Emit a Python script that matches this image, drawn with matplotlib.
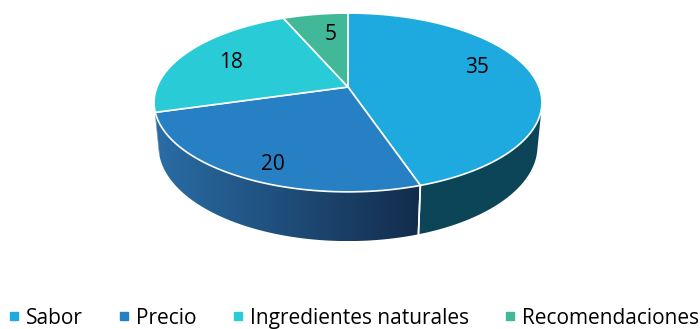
import numpy as np
import matplotlib.pyplot as plt
from matplotlib.patches import Polygon
from matplotlib.lines import Line2D
from matplotlib.colors import LinearSegmentedColormap

categories = ['Sabor', 'Precio', 'Ingredientes naturales', 'Recomendaciones']
values = [35, 20, 18, 5]
top_colors = ['#1eaadf', '#2780c4', '#29cbd6', '#41b897']
side_colors = [('#0c4558', '#0c4558'), ('#2a6da5', '#132c4c'),
               ('#2a6da5', '#2a6da5'), ('#2f8a70', '#2f8a70')]

# view geometry (pixels)
cx, cy = 348, 87
s = 191
elev = np.radians(27)
sinE, cosE = np.sin(elev), np.cos(elev)
D = 5.15
h = 0.26


def proj(X, Y, Z):
    v = Y * sinE + Z * cosE
    w = Y * cosE - Z * sinE
    f = D / (D + w)
    return cx + s * X * f, cy - s * v * f


fig = plt.figure(figsize=(7, 3.29), dpi=100)
ax = fig.add_axes([0, 0, 1, 1])
ax.set_xlim(0, 700)
ax.set_ylim(329, 0)
ax.axis('off')

total = sum(values)
bounds = np.concatenate([[0], np.cumsum(values)]) / total * 360

# visible part of the rim (tangent points seen from the camera)
alpha = np.degrees(np.arccos(1 / (D * cosE)))
vis_a, vis_b = 180 - alpha, 180 + alpha

for i in range(len(values)):
    a, b = max(bounds[i], vis_a), min(bounds[i + 1], vis_b)
    if b <= a:
        continue
    phi = np.radians(np.linspace(a, b, 120))
    xt, yt = proj(np.sin(phi), np.cos(phi), 0)
    xb, yb = proj(np.sin(phi), np.cos(phi), -h)
    pts = np.column_stack([np.concatenate([xt, xb[::-1]]),
                           np.concatenate([yt, yb[::-1]])])
    poly = Polygon(pts, closed=True, facecolor='none', edgecolor='none')
    ax.add_patch(poly)
    c0, c1 = side_colors[i]
    cmap = LinearSegmentedColormap.from_list('g%d' % i, [c0, c1])
    x0, x1 = pts[:, 0].min(), pts[:, 0].max()
    y0, y1 = pts[:, 1].min(), pts[:, 1].max()
    grad = np.linspace(0, 1, 256).reshape(1, -1)
    im = ax.imshow(grad, cmap=cmap, extent=[x0, x1, y1, y0], aspect='auto',
                   interpolation='bilinear', zorder=1)
    im.set_clip_path(poly)
    # white vertical edge at slice boundary
    for ang in (bounds[i], bounds[i + 1]):
        if vis_a + 2 < ang < vis_b - 6:
            r = np.radians(ang)
            xa, ya = proj(np.sin(r), np.cos(r), 0)
            xbb, ybb = proj(np.sin(r), np.cos(r), -h)
            ax.plot([xa, xbb], [ya, ybb], color='white', lw=1.2, zorder=2)

# top faces
for i in range(len(values)):
    phi = np.radians(np.linspace(bounds[i], bounds[i + 1], 200))
    xt, yt = proj(np.sin(phi), np.cos(phi), 0)
    pts = np.column_stack([np.concatenate([[cx], xt]), np.concatenate([[cy], yt])])
    ax.add_patch(Polygon(pts, closed=True, facecolor=top_colors[i],
                         edgecolor='white', lw=1.2, zorder=3))

# data labels: radius and angular nudge from slice middle
label_r = [0.76, 0.82, 0.73, 0.72]
label_shift = [-12, -3, 2, 3.5]
for i, v in enumerate(values):
    mid = np.radians((bounds[i] + bounds[i + 1]) / 2 + label_shift[i])
    r = label_r[i]
    lx, ly = proj(r * np.sin(mid), r * np.cos(mid), 0)
    ax.text(lx, ly + 3, str(v), ha='center', va='center', fontsize=15,
            family='Open Sans', color='black', zorder=4)

handles = [Line2D([], [], marker='s', ls='none', markersize=5.8,
                  markerfacecolor=c, markeredgecolor=c) for c in top_colors]
fig.legend(handles, categories, loc='center', ncol=4, frameon=False,
           bbox_to_anchor=(0.505, 0.033), prop={'family': 'Open Sans', 'size': 15},
           handletextpad=0.3, columnspacing=1.65, handlelength=0.6,
           borderpad=0, borderaxespad=0)

fig.savefig('out.png', dpi=100)
